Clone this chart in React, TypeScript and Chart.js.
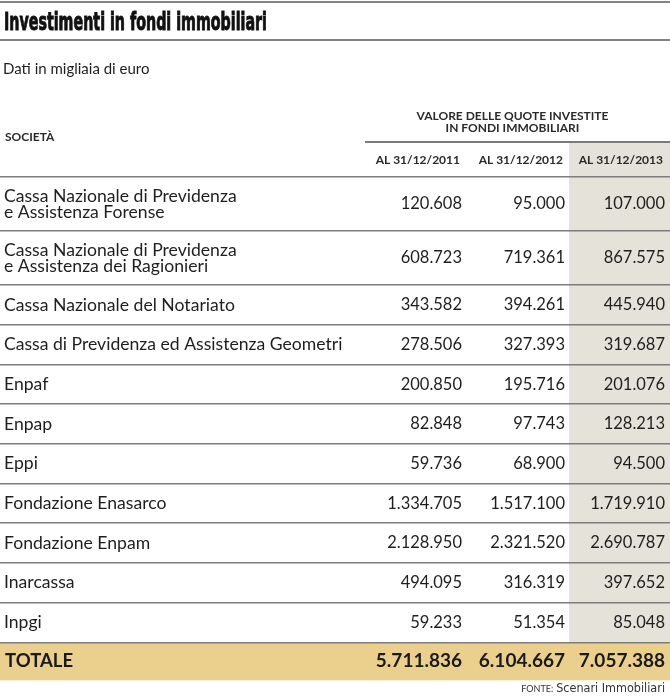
import React, { useEffect, useRef } from 'react';
import { Chart, registerables } from 'chart.js';
Chart.register(...registerables);

const TITLE = 'Investimenti in fondi immobiliari';
const SUBTITLE = 'Dati in migliaia di euro';
const FIRST_HEADER = 'SOCIETÀ';
const GROUP_HEADER = ['VALORE DELLE QUOTE INVESTITE', 'IN FONDI IMMOBILIARI'];
const YEAR_HEADERS = ['AL 31/12/2011', 'AL 31/12/2012', 'AL 31/12/2013'];

const companies: string[][] = [
  ['Cassa Nazionale di Previdenza', 'e Assistenza Forense'],
  ['Cassa Nazionale di Previdenza', 'e Assistenza dei Ragionieri'],
  ['Cassa Nazionale del Notariato'],
  ['Cassa di Previdenza ed Assistenza Geometri'],
  ['Enpaf'],
  ['Enpap'],
  ['Eppi'],
  ['Fondazione Enasarco'],
  ['Fondazione Enpam'],
  ['Inarcassa'],
  ['Inpgi'],
];
const values2011 = [120608, 608723, 343582, 278506, 200850, 82848, 59736, 1334705, 2128950, 494095, 59233];
const values2012 = [95000, 719361, 394261, 327393, 195716, 97743, 68900, 1517100, 2321520, 316319, 51354];
const values2013 = [107000, 867575, 445940, 319687, 201076, 128213, 94500, 1719910, 2690787, 397652, 85048];
const TOTAL_LABEL = 'TOTALE';
const totals = [5711836, 6104667, 7057388];
const SOURCE_LABEL = 'FONTE:';
const SOURCE_TEXT = 'Scenari Immobiliari';

// layout
const W = 670;
const H = 696;
const BODY_TOP = 177;
const ROW_H1 = 39.7;
const ROW_H2 = 54;
const TOTAL_H = 38;
const COL_RIGHT = [462, 565, 665];
const HILITE_LEFT = 569;
const GROUP_LINE_LEFT = 365;

const fmt = (n: number) => n.toString().replace(/\B(?=(\d{3})+(?!\d))/g, '.');

const rowHeights = [...companies.map((c) => (c.length > 1 ? ROW_H2 : ROW_H1)), TOTAL_H];
const boundaries: number[] = [0];
rowHeights.forEach((h, i) => boundaries.push(boundaries[i] + h));
const bodyHeight = boundaries[boundaries.length - 1];

const SANS = "Lato, 'Open Sans', sans-serif";
const NARROW = "'Liberation Sans Narrow', 'DejaVu Sans Condensed', Roboto, sans-serif";
const TEXT = '#1e1e1e';

const tablePlugin = {
  id: 'tablePlugin',
  beforeDraw(chart: any) {
    const ctx = chart.ctx;
    const xs = chart.scales.x;
    const ys = chart.scales.y;
    ctx.save();
    ctx.fillStyle = '#ffffff';
    ctx.fillRect(0, 0, chart.width, chart.height);
    const totalTop = ys.getPixelForValue(boundaries[companies.length]);
    const totalBot = ys.getPixelForValue(bodyHeight);
    // highlighted column
    ctx.fillStyle = '#e5e2da';
    const hx = xs.getPixelForValue(HILITE_LEFT);
    ctx.fillRect(hx, 142, xs.getPixelForValue(W) - hx, totalTop - 142);
    // total row
    ctx.fillStyle = '#ebcf8c';
    ctx.fillRect(xs.getPixelForValue(0), totalTop, xs.getPixelForValue(W), totalBot - totalTop);
    ctx.restore();
  },
  afterDraw(chart: any) {
    const ctx = chart.ctx;
    const xs = chart.scales.x;
    const ys = chart.scales.y;
    ctx.save();
    // top rules
    ctx.strokeStyle = '#5a5a5a';
    ctx.lineWidth = 1.5;
    [2, 40].forEach((y) => {
      ctx.beginPath();
      ctx.moveTo(0, y);
      ctx.lineTo(W, y);
      ctx.stroke();
    });
    ctx.strokeStyle = '#7a7a7a';
    ctx.lineWidth = 2;
    ctx.beginPath();
    ctx.moveTo(xs.getPixelForValue(GROUP_LINE_LEFT), 142);
    ctx.lineTo(W, 142);
    ctx.stroke();

    // title
    ctx.fillStyle = '#111';
    ctx.strokeStyle = '#111';
    ctx.lineWidth = 0.9;
    ctx.textBaseline = 'alphabetic';
    ctx.textAlign = 'left';
    ctx.font = `bold 24px ${NARROW}`;
    ctx.fillText(TITLE, 4, 30, 263);
    ctx.strokeText(TITLE, 4, 30, 263);
    ctx.fillStyle = TEXT;
    ctx.font = `15px ${SANS}`;
    ctx.fillText(SUBTITLE, 3, 74, 156);

    // headers
    ctx.fillStyle = '#2a2a2a';
    ctx.font = `bold 12px ${SANS}`;
    ctx.fillText(FIRST_HEADER, 5, 141);
    ctx.textAlign = 'center';
    const gc = (xs.getPixelForValue(GROUP_LINE_LEFT) + xs.getPixelForValue(W)) / 2 - 5;
    ctx.fillText(GROUP_HEADER[0], gc, 120);
    ctx.fillText(GROUP_HEADER[1], gc, 132);
    ctx.textAlign = 'right';
    ctx.font = `bold 12px ${SANS}`;
    YEAR_HEADERS.forEach((h, i) => ctx.fillText(h, xs.getPixelForValue(COL_RIGHT[i]) - 2, 164));

    // body rows
    const cols = [values2011, values2012, values2013];
    ctx.textBaseline = 'middle';
    companies.forEach((lines, r) => {
      const cy = (ys.getPixelForValue(boundaries[r]) + ys.getPixelForValue(boundaries[r + 1])) / 2;
      ctx.textAlign = 'left';
      ctx.font = `17.6px ${SANS}`;
      ctx.fillStyle = TEXT;
      if (lines.length === 1) ctx.fillText(lines[0], 4, cy);
      else {
        ctx.fillText(lines[0], 4, cy - 8);
        ctx.fillText(lines[1], 4, cy + 8);
      }
      ctx.textAlign = 'right';
      ctx.font = `16.5px ${SANS}`;
      cols.forEach((col, c) => ctx.fillText(fmt(col[r]), xs.getPixelForValue(COL_RIGHT[c]), cy));
    });
    // totals
    const tr = companies.length;
    const ty = (ys.getPixelForValue(boundaries[tr]) + ys.getPixelForValue(boundaries[tr + 1])) / 2;
    ctx.fillStyle = '#1a1a1a';
    ctx.textAlign = 'left';
    ctx.font = `bold 18.5px ${SANS}`;
    ctx.fillText(TOTAL_LABEL, 5, ty);
    ctx.textAlign = 'right';
    ctx.font = `bold 19px ${SANS}`;
    totals.forEach((t, c) => ctx.fillText(fmt(t), xs.getPixelForValue(COL_RIGHT[c]), ty));

    // source
    ctx.textBaseline = 'alphabetic';
    ctx.fillStyle = '#333';
    ctx.font = `12.5px ${NARROW}`;
    const sw = ctx.measureText(SOURCE_TEXT).width;
    const right = xs.getPixelForValue(665);
    ctx.fillText(SOURCE_TEXT, right, 692);
    ctx.font = `9px ${SANS}`;
    ctx.fillText(SOURCE_LABEL, right - sw - 3, 692);
    ctx.restore();
  },
};

export default function App() {
  const ref = useRef<HTMLCanvasElement | null>(null);
  useEffect(() => {
    if (!ref.current) return;
    const chart = new Chart(ref.current, {
      type: 'scatter',
      data: { datasets: [] },
      options: {
        animation: false,
        responsive: false,
        events: [],
        layout: { padding: { top: BODY_TOP, bottom: H - BODY_TOP - bodyHeight, left: 0, right: 0 } },
        plugins: { legend: { display: false }, tooltip: { enabled: false } },
        scales: {
          x: { type: 'linear', min: 0, max: W, display: false },
          y: {
            type: 'linear',
            reverse: true,
            min: 0,
            max: bodyHeight,
            display: true,
            ticks: { display: false },
            border: { display: false },
            grid: { color: '#7d7d7d', lineWidth: 1.5, drawTicks: false },
            afterBuildTicks: (s: any) => {
              s.ticks = boundaries.slice(0, boundaries.length - 1).map((v) => ({ value: v }));
            },
            afterFit: (s: any) => {
              s.width = 0;
            },
          },
        },
      },
      plugins: [tablePlugin],
    } as any);
    return () => chart.destroy();
  }, []);
  return (
    <div style={{ position: 'fixed', left: 0, top: 0, width: W, height: H, background: '#fff' }}>
      <canvas ref={ref} width={W} height={H} />
    </div>
  );
}
